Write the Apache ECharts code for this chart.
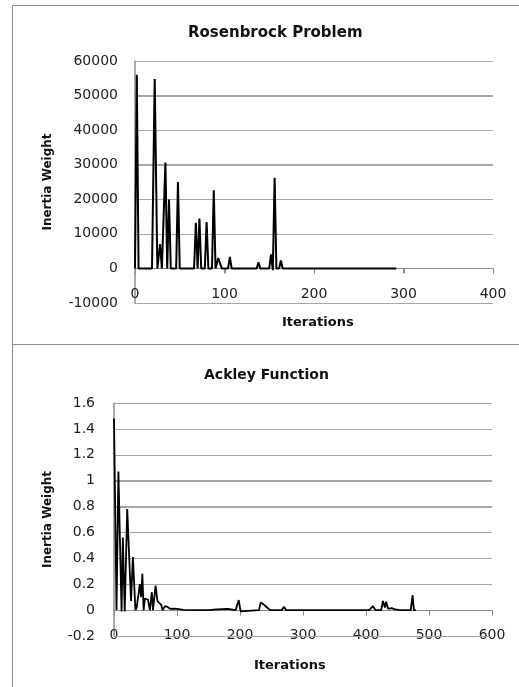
<!DOCTYPE html>
<html>
<head>
<meta charset="utf-8">
<script src="https://cdn.jsdelivr.net/npm/echarts@6/dist/echarts.min.js"></script>
<style>
html,body{margin:0;padding:0;background:#fff;overflow:hidden;}
#c1{width:519px;height:344px;position:absolute;left:0;top:0;}
#c2{width:519px;height:343px;position:absolute;left:0;top:344px;}
.frame{position:absolute;border:1.5px solid #8a8a8a;pointer-events:none;}
#f1{left:12px;top:5px;width:560px;height:338px;}
#f2{left:12px;top:344px;width:560px;height:400px;}
</style>
</head>
<body>
<div id="c1"></div>
<div id="c2"></div>
<div class="frame" id="f1"></div>
<div class="frame" id="f2"></div>
<script>
// Rosenbrock Problem (top chart)
const rosenIter = [0,2,4,19,22,25,28,30,34,36,38,40,46,48,50,66,68,70,72,74,78,80,82,86,88,90,92,93,95,97,104,106,108,136,138,140,150,152,154,156,158,161,163,165,188,190,192,292];
const rosenWeight = [0,56000,0,0,54800,0,7000,0,30600,0,19900,0,0,25000,0,0,13200,0,14400,0,0,13400,0,0,22600,0,0,3000,3000,0,0,3300,0,0,1800,0,0,4100,-500,26200,0,0,2300,0,0,400,0,0];
const rosenYTicks = [-10000,0,10000,20000,30000,40000,50000,60000];
const rosenXTicks = [0,100,200,300,400];

// Ackley Function (bottom chart)
const ackIter = [0,4,7,12,14,17,21,27,30,34,36,41,43,45,47,49,54,57,60,62,66,69,72,75,77,81,85,89,94,100,110,150,163,166,181,184,193,198,201,203,230,233,237,240,243,248,266,270,273,283,286,289,405,411,415,424,427,430,432,435,441,446,455,471,474,476,479];
const ackVal = [1.48,0,1.07,-0.01,0.56,-0.01,0.78,0.07,0.41,0,0.02,0.2,0.1,0.28,0,0.09,0.08,0,0.14,0,0.19,0.07,0.07,0.04,0,0.03,0.025,0.01,0.012,0.01,0.002,0,0.006,0,0.01,0,0,0.077,-0.01,0,0,0.06,0.045,0.03,0.02,0,0,0.025,0,0,0.015,0,0,0.03,0,0,0.07,0.02,0.065,0.01,0.015,0.005,0,0,0.115,0,0];
const ackYTicks = [-0.2,0,0.2,0.4,0.6,0.8,1,1.2,1.4,1.6];
const ackXTicks = [0,100,200,300,400,500,600];

const titles = ['Rosenbrock Problem','Ackley Function'];
const xName = 'Iterations';
const yName = 'Inertia Weight';

const FONT = 'DejaVu Sans';
const gridCol = '#a6a6a6';
const axisCol = '#8c8c8c';

function pairs(xs, ys){ return xs.map((x,i)=>[x, ys[i]]); }

function build(el, p){
  const chart = echarts.init(document.getElementById(el));
  const xmin = p.xTicks[0], xmax = p.xTicks[p.xTicks.length-1];
  chart.setOption({
    animation:false,
    title:[
      {text:p.title, left:p.titleLeft, top:p.titleTop, textStyle:{fontFamily:FONT, fontWeight:'bold', fontSize:p.titleSize, color:'#111'}},
      {text:xName, left:p.xNameLeft, top:p.xNameTop, textStyle:{fontFamily:FONT, fontWeight:'bold', fontSize:13, color:'#111'}}
    ],
    grid:p.grid,
    xAxis:{
      type:'value', min:xmin, max:xmax, interval:p.xTicks[1]-p.xTicks[0],
      axisLine:{show:true, lineStyle:{color:axisCol, width:1}},
      axisTick:{show:true, length:5, lineStyle:{color:axisCol}},
      axisLabel:{fontFamily:FONT, fontSize:14, color:'#222', margin:p.xLabelMargin},
      splitLine:{show:false}
    },
    yAxis:{
      type:'value', min:p.yTicks[0], max:p.yTicks[p.yTicks.length-1], interval:p.yTicks[1]-p.yTicks[0],
      name:yName, nameLocation:'middle', nameGap:p.yNameGap,
      nameTextStyle:{fontFamily:FONT, fontWeight:'bold', fontSize:12, color:'#111'},
      axisLine:{show:true, onZero:false, lineStyle:{color:axisCol, width:1.5}},
      axisTick:{show:false},
      axisLabel:{fontFamily:FONT, fontSize:14, color:'#222', margin:p.yLabelMargin, formatter:p.fmt},
      splitLine:{show:true, lineStyle:{color:gridCol, width:1}}
    },
    series:[{
      type:'line', z:10, data:pairs(p.xs, p.ys), showSymbol:false,
      lineStyle:{color:'#000', width:p.lw}, itemStyle:{color:'#000'}
    }]
  });

  // Grid lines, zero axis line and ticks positioned through the chart's own scales
  const toPx = (x, y) => chart.convertToPixel({gridIndex:0}, [x, y]);
  const crisp = v => Math.round(v) + 0.5;
  const xl = toPx(xmin, 0)[0], xr = toPx(xmax, 0)[0];
  const els = [];
  p.yTicks.forEach(v => {
    const y = crisp(toPx(xmin, v)[1]);
    els.push({type:'line', z:5, silent:true, shape:{x1:xl, y1:y, x2:xr, y2:y}, style:{stroke:gridCol, lineWidth:1}});
  });
  const y0 = crisp(toPx(xmin, 0)[1]);
  els.push({type:'line', z:6, silent:true, shape:{x1:xl, y1:y0, x2:xr, y2:y0}, style:{stroke:axisCol, lineWidth:1}});
  p.xTicks.forEach(v => {
    const x = crisp(toPx(v, 0)[0]);
    els.push({type:'line', z:6, silent:true, shape:{x1:x, y1:y0, x2:x, y2:y0 + 5}, style:{stroke:axisCol, lineWidth:1}});
  });
  chart.setOption({graphic:{elements:els}});
}

build('c1', {
  title:titles[0], titleLeft:183, titleTop:21, titleSize:15,
  xNameLeft:277, xNameTop:311,
  grid:{left:135, right:26, top:61, bottom:41},
  xTicks:rosenXTicks, yTicks:rosenYTicks, xs:rosenIter, ys:rosenWeight,
  xLabelMargin:-16, yNameGap:81, yLabelMargin:17, lw:2,
  fmt:v=>String(v)
});
build('c2', {
  title:titles[1], titleLeft:199, titleTop:19, titleSize:14,
  xNameLeft:249, xNameTop:310,
  grid:{left:114, right:27, top:59, bottom:51},
  xTicks:ackXTicks, yTicks:ackYTicks, xs:ackIter, ys:ackVal,
  xLabelMargin:-8, yNameGap:60, yLabelMargin:19, lw:1.8,
  fmt:v=>String(Math.round(v*10)/10)
});
</script>
</body>
</html>
